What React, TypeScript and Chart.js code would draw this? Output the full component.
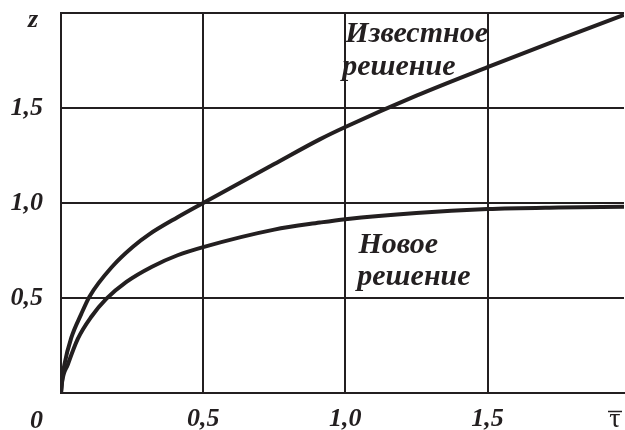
import React, { useEffect, useRef } from "react";
import { Chart, registerables } from "chart.js";

Chart.register(...registerables);

// Known solution ("Известное решение")
const tauKnown = [0, 0.004, 0.012, 0.036, 0.071, 0.1, 0.183, 0.253, 0.31, 0.41, 0.5, 0.75, 0.91, 1.0, 1.25, 1.5, 1.75, 1.98];
const zKnown = [0, 0.07, 0.15, 0.29, 0.415, 0.507, 0.67, 0.77, 0.835, 0.925, 1.0, 1.205, 1.335, 1.4, 1.565, 1.715, 1.86, 1.99];

// New solution ("Новое решение")
const tauNew = [0, 0.004, 0.024, 0.059, 0.106, 0.159, 0.23, 0.32, 0.41, 0.5, 0.75, 0.91, 1.0, 1.25, 1.5, 1.75, 1.98];
const zNew = [0, 0.06, 0.15, 0.285, 0.4, 0.495, 0.585, 0.665, 0.725, 0.768, 0.86, 0.897, 0.915, 0.948, 0.968, 0.976, 0.98];

const xTickValues = [0, 0.5, 1.0, 1.5];
const yTickValues = [0, 0.5, 1.0, 1.5, 2.0];
const knownLabel = ["Известное", "решение"];
const newLabel = ["Новое", "решение"];
const xAxisTitle = "τ";
const yAxisTitle = "z";
const originLabel = "0";

const INK = "#231f20";
const TICK_FONT = { family: "'Liberation Serif', 'Times New Roman', serif", size: 26, style: "italic" as const, weight: "bold" as const };

const fmt = (v: number) => v.toFixed(1).replace(".", ",");

export default function App() {
  const ref = useRef<HTMLCanvasElement | null>(null);

  useEffect(() => {
    if (!ref.current) return;

    const annotations = {
      id: "annotations",
      afterDraw(chart: any) {
        const { ctx, scales } = chart;
        const xs = scales.x;
        const ys = scales.y;
        ctx.save();
        ctx.fillStyle = INK;
        ctx.strokeStyle = INK;
        ctx.textBaseline = "alphabetic";
        ctx.font = "italic bold 30px 'Liberation Serif', serif";
        ctx.textAlign = "left";
        ctx.fillText(knownLabel[0], xs.getPixelForValue(1.0), ys.getPixelForValue(1.847));
        ctx.fillText(knownLabel[1], xs.getPixelForValue(0.989), ys.getPixelForValue(1.674));
        ctx.fillText(newLabel[0], xs.getPixelForValue(1.046), ys.getPixelForValue(0.737));
        ctx.fillText(newLabel[1], xs.getPixelForValue(1.042), ys.getPixelForValue(0.568));

        // origin label and y-axis title
        ctx.font = "italic bold 26px 'Liberation Serif', serif";
        ctx.textAlign = "right";
        ctx.fillText(originLabel, xs.left - 18, ys.bottom + 35);
        ctx.fillText(yAxisTitle, xs.left - 23, ys.top + 14);

        // x axis title: tau with overline
        ctx.font = "28px 'Liberation Serif', serif";
        ctx.textAlign = "center";
        const tx = xs.right - 9;
        const ty = ys.bottom + 34;
        ctx.fillText(xAxisTitle, tx, ty);
        ctx.lineWidth = 1.5;
        ctx.beginPath();
        ctx.moveTo(tx - 7, ty - 15.5);
        ctx.lineTo(tx + 7, ty - 15.5);
        ctx.stroke();
        ctx.restore();
      },
    };

    const chart = new Chart(ref.current, {
      type: "scatter",
      data: {
        datasets: [
          {
            label: knownLabel.join(" "),
            data: tauKnown.map((t, i) => ({ x: t, y: zKnown[i] })),
            showLine: true,
            borderColor: INK,
            backgroundColor: INK,
            borderWidth: 4,
            pointRadius: 0,
            cubicInterpolationMode: "monotone",
          },
          {
            label: newLabel.join(" "),
            data: tauNew.map((t, i) => ({ x: t, y: zNew[i] })),
            showLine: true,
            borderColor: INK,
            backgroundColor: INK,
            borderWidth: 4,
            pointRadius: 0,
            cubicInterpolationMode: "monotone",
          },
        ],
      },
      options: {
        animation: false,
        responsive: false,
        layout: { padding: { top: 13, right: 1, left: 0, bottom: 0 } },
        plugins: { legend: { display: false }, tooltip: { enabled: false } },
        scales: {
          x: {
            type: "linear",
            min: 0,
            max: 1.98,
            afterBuildTicks: (s: any) => {
              s.ticks = xTickValues.map((v) => ({ value: v }));
            },
            afterFit: (s: any) => {
              s.height = 37;
              s.paddingLeft = 0;
              s.paddingRight = 0;
            },
            ticks: {
              callback: (v: any) => (v === 0 ? "" : fmt(Number(v))),
              font: TICK_FONT,
              color: INK,
              padding: 11,
              maxRotation: 0,
              autoSkip: false,
            },
            grid: { color: INK, lineWidth: 2, drawTicks: false },
            border: { display: true, color: INK, width: 2 },
          },
          y: {
            type: "linear",
            min: 0,
            max: 2,
            afterBuildTicks: (s: any) => {
              s.ticks = yTickValues.map((v) => ({ value: v }));
            },
            afterFit: (s: any) => {
              s.width = 61;
              s.paddingTop = 0;
              s.paddingBottom = 0;
            },
            ticks: {
              callback: (v: any) => (v === 0 || v === 2 ? "" : fmt(Number(v))),
              font: TICK_FONT,
              color: INK,
              padding: 18,
              autoSkip: false,
            },
            grid: { color: INK, lineWidth: 2, drawTicks: false },
            border: { display: true, color: INK, width: 2 },
          },
        },
      },
      plugins: [annotations],
    } as any);

    return () => chart.destroy();
  }, []);

  return (
    <div style={{ position: "absolute", left: 0, top: 0, width: 625, height: 430, background: "#fff" }}>
      <canvas ref={ref} width={625} height={430} style={{ width: 625, height: 430 }} />
    </div>
  );
}
